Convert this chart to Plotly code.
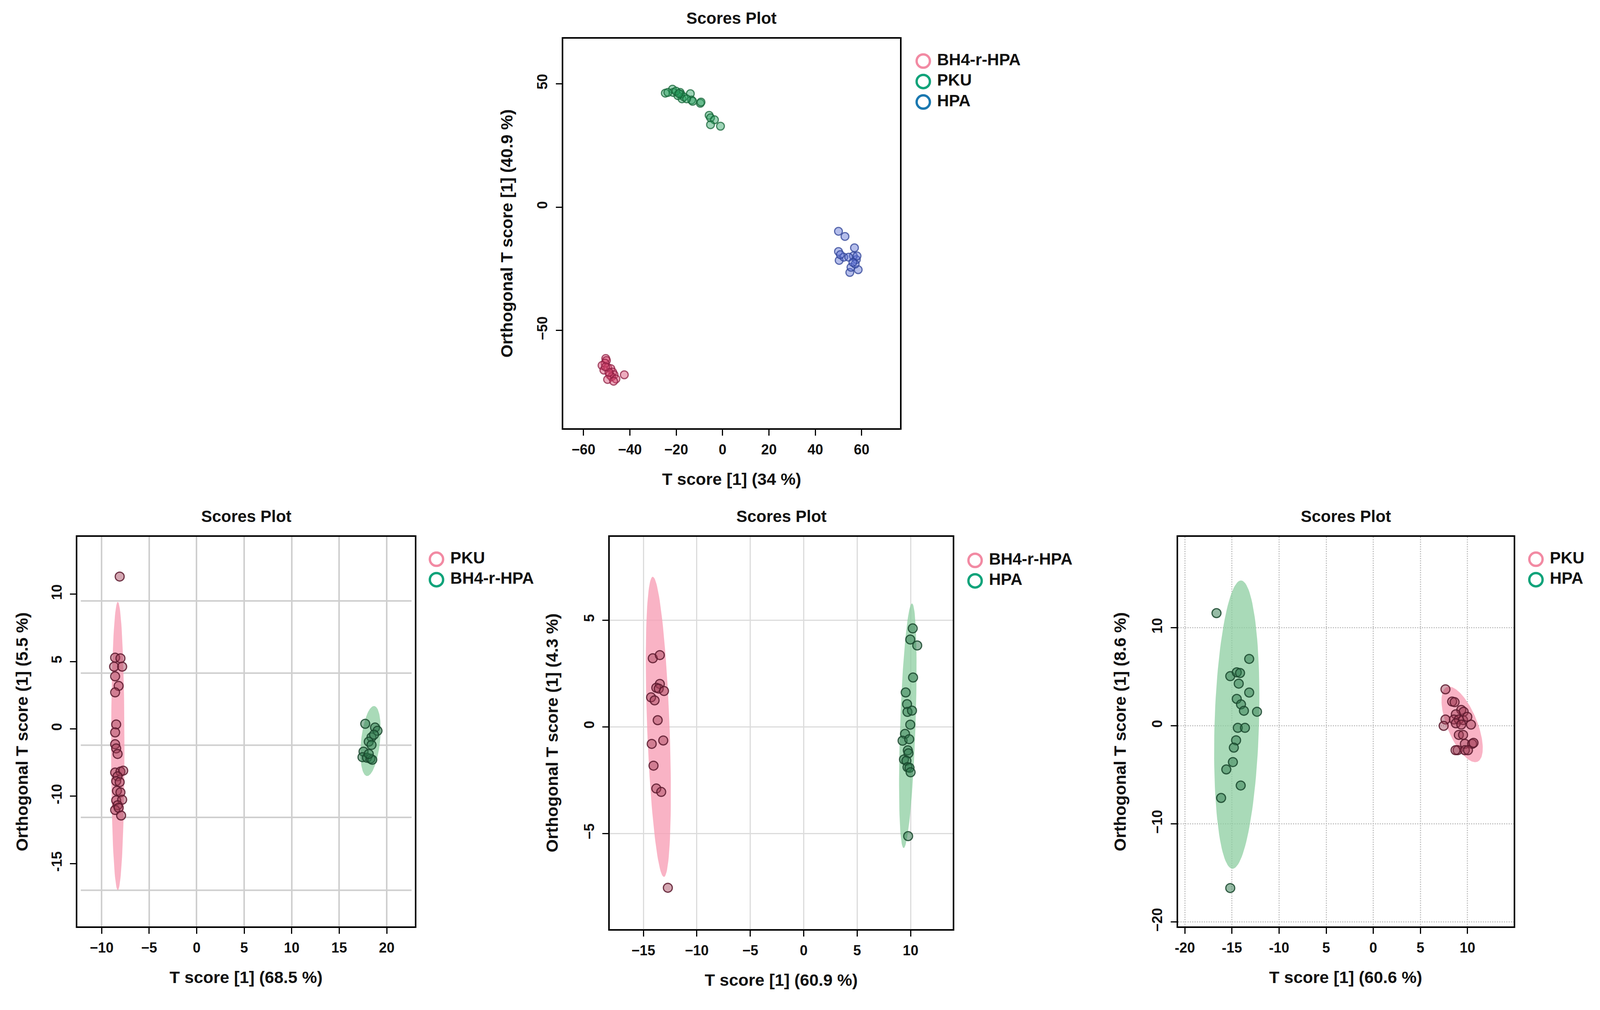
import numpy as np
import plotly.graph_objects as go

W, H = 4359, 2585
FONT = "Liberation Sans, Arial, sans-serif"

# ---------------- data ----------------
# top panel: BH4-r-HPA / PKU / HPA
top_groups = ["BH4-r-HPA", "PKU", "HPA"]
top_bh4_x = [-50.4, -50.1, -50.7, -52.0, -51.2, -49.6, -48.2, -47.4, -46.8, -48.7,
             -47.9, -49.6, -46.0, -42.4, -49.0, -50.5, -47.0]
top_bh4_y = [-61.4, -62.2, -63.3, -64.2, -66.1, -65.0, -65.5, -66.9, -68.0, -68.0,
             -68.8, -69.9, -69.7, -68.0, -67.0, -64.8, -70.6]
top_pku_x = [-24.7, -21.6, -21.3, -18.3, -18.0, -17.5, -16.7, -13.9, -13.4, -12.9, -9.6,
             -9.3, -5.8, -5.2, -3.5, -5.2, -0.9, -19.3, -15.5, -23.6, -20.1, -18.8]
top_pku_y = [46.2, 47.8, 46.5, 46.5, 45.7, 43.9, 44.7, 46.0, 43.4, 42.9, 42.1,
             42.6, 37.2, 36.2, 35.4, 33.4, 32.8, 45.2, 43.9, 46.5, 47.0, 46.0]
top_hpa_x = [50.0, 52.8, 50.0, 50.3, 52.3, 56.9, 57.7, 56.4, 58.5, 54.9, 55.4, 57.2,
             50.8, 54.4, 58.0, 56.2]
top_hpa_y = [-9.8, -11.9, -18.0, -21.6, -20.3, -16.5, -21.3, -19.8, -25.4, -26.5, -24.4,
             -23.1, -19.3, -20.3, -19.8, -22.4]

# bottom-left panel: PKU / BH4-r-HPA
bl_groups = ["PKU", "BH4-r-HPA"]
bl_pku_x = [-8.10, -8.58, -8.02, -8.69, -7.84, -8.58, -8.21, -8.58, -8.47, -8.58, -8.58,
            -8.47, -8.32, -8.58, -8.02, -7.73, -8.32, -8.47, -8.10, -8.39, -8.02, -8.47,
            -7.84, -8.32, -8.58, -8.21, -7.95]
bl_pku_y = [11.31, 5.29, 5.24, 4.62, 4.62, 3.90, 3.19, 2.71, 0.33, -0.26, -1.14,
            -1.45, -1.86, -3.24, -3.17, -3.10, -3.52, -3.88, -3.95, -4.60, -4.71, -5.31,
            -5.26, -5.67, -6.02, -5.86, -6.43]
bl_bh4_x = [17.74, 18.77, 19.03, 18.40, 18.11, 18.40, 17.56, 17.45, 17.92, 18.29, 18.48,
            18.11, 18.66]
bl_bh4_y = [0.38, 0.10, -0.14, -0.62, -0.95, -1.19, -1.69, -2.10, -2.14, -2.21, -2.29,
            -1.86, -0.43]
bl_pku_ellipse = [-8.3, -1.27, 0.7, 10.7, 0.0]     # cx, cy, rx, ry, tilt
bl_bh4_ellipse = [18.3, -0.9, 1.0, 2.6, 0.36]
bl_y_ticks = [10, 5, 0, -5, -10]
bl_y_ticklabels = ["10", "5", "0", "-10", "-15"]
bl_hgrid = [9.5, 4.14, -1.21, -6.57, -11.98]

# bottom-middle panel: BH4-r-HPA / HPA
bm_groups = ["BH4-r-HPA", "HPA"]
bm_bh4_x = [-14.12, -13.46, -13.46, -13.79, -13.56, -13.07, -14.28, -13.95, -13.66,
            -14.22, -13.14, -14.05, -13.79, -13.33, -12.71]
bm_bh4_y = [3.21, 3.36, 2.01, 1.83, 1.79, 1.68, 1.38, 1.24, 0.31, -0.80, -0.64, -1.82,
            -2.89, -3.05, -7.54]
bm_hpa_x = [10.2, 9.97, 10.62, 10.23, 9.54, 9.67, 9.71, 10.13, 9.97, 9.48, 9.25, 9.87,
            9.74, 9.80, 9.38, 9.61, 9.71, 9.90, 10.0, 9.77]
bm_hpa_y = [4.61, 4.09, 3.81, 2.31, 1.61, 1.06, 0.70, 0.76, 0.10, -0.33, -0.65, -0.58,
            -1.10, -1.24, -1.53, -1.59, -1.89, -1.92, -2.13, -5.12]
bm_bh4_ellipse = [-13.6, 0.0, 1.05, 7.03, -0.52]
bm_hpa_ellipse = [9.74, 0.05, 0.72, 5.73, 0.39]

# bottom-right panel: PKU / HPA
br_groups = ["PKU", "HPA"]
br_pku_x = [7.66, 8.37, 8.63, 9.34, 9.59, 8.76, 7.66, 7.47, 8.56, 9.08, 9.53, 9.98, 10.37,
            8.76, 9.34, 9.08, 9.53, 9.72, 10.49, 8.95, 9.72, 10.64, 8.73, 10.05]
br_pku_y = [3.73, 2.48, 2.42, 1.63, 1.44, 1.18, 0.65, 0.0, 0.65, 0.65, 0.59, 0.92, 0.13,
            0.26, 0.13, -0.92, -0.92, -1.83, -1.83, -2.48, -2.48, -1.73, -2.48, -2.48]
br_hpa_x = [-16.64, -13.17, -15.18, -14.49, -14.14, -14.28, -13.17, -14.49, -14.04,
            -13.73, -12.34, -14.38, -13.62, -14.56, -14.80, -14.90, -15.60, -14.07,
            -16.15, -15.18]
br_hpa_y = [11.5, 6.83, 5.07, 5.46, 5.39, 4.31, 3.40, 2.75, 2.19, 1.54, 1.44, -0.20,
            -0.20, -1.47, -2.22, -3.69, -4.44, -6.08, -7.35, -16.54]
br_pku_ellipse = [9.43, 0.15, 1.7, 3.85, -1.38]
br_hpa_ellipse = [-14.49, 0.13, 2.36, 14.7, 0.45]
br_x_ticks = [-20, -15, -10, -5, 0, 5, 10]
br_x_ticklabels = ["-20", "-15", "-10", "5", "0", "5", "10"]

# ---------------- styles ----------------
LEGEND_COLORS = ["#F28AA3", "#10A37A", "#1A78B0"]
PT_FILL = {"pink": "rgba(215,70,110,0.45)", "green": "rgba(40,160,95,0.45)",
           "blue": "rgba(90,110,210,0.45)"}
PT_LINE = {"pink": "rgba(140,30,65,0.75)", "green": "rgba(20,100,55,0.75)",
           "blue": "rgba(45,65,150,0.75)"}
BT_FILL = {"pink": "rgba(160,60,85,0.45)", "green": "rgba(45,120,75,0.5)"}
BT_LINE = {"pink": "rgba(90,25,45,0.85)", "green": "rgba(25,70,45,0.85)"}
ELL_FILL = {"pink": "rgba(248,160,182,0.8)", "green": "rgba(140,205,160,0.75)"}


def px(x):
    return x / W


def py(y):
    return 1 - y / H


def ellipse(cx, cy, rx, ry, tilt, n=120):
    t = np.linspace(0, 2 * np.pi, n)
    return cx + rx * np.cos(t) + tilt * np.sin(t), cy + ry * np.sin(t)


fig = go.Figure()
annotations = []
shapes = []

# panel boxes in reference pixels: left, top, right, bottom
panels = [
    dict(box=(1526, 92, 2449, 1101), xr=[-68.8, 76.5], yr=[-89.7, 68.3],
         xt=list(range(-60, 61, 20)), xl=None, yt=[-50, 0, 50], yl=None,
         xtitle="T score [1] (34 %)", ytitle="Orthogonal T score [1] (40.9 %)",
         grid=None, legend=(2513, 150, 53, top_groups)),
    dict(box=(195, 1382, 1120, 2391), xr=[-12.55, 22.97], yr=[-14.67, 14.26],
         xt=list(range(-10, 21, 5)), xl=None, yt=bl_y_ticks, yl=bl_y_ticklabels,
         xtitle="T score [1] (68.5 %)", ytitle="Orthogonal T score (1] (5.5 %)",
         grid="bl", legend=(1179, 1440, 53, bl_groups)),
    dict(box=(1654, 1382, 2594, 2398), xr=[-18.14, 13.95], yr=[-9.48, 8.9],
         xt=list(range(-15, 11, 5)), xl=None, yt=[-5, 0, 5], yl=None,
         xtitle="T score [1] (60.9 %)", ytitle="Orthogonal T score (1] (4.3 %)",
         grid="bm", legend=(2655, 1443, 53, bm_groups)),
    dict(box=(3211, 1382, 4131, 2391), xr=[-20.73, 14.9], yr=[-20.46, 19.28],
         xt=br_x_ticks, xl=br_x_ticklabels, yt=[-20, -10, 0, 10], yl=None,
         xtitle="T score [1] (60.6 %)", ytitle="Orthogonal T score (1] (8.6 %)",
         grid="br", legend=(4192, 1440, 53, br_groups)),
]
ytitle_x = [1371, 42, 1496, 3052]

layout_axes = {}
for i, p in enumerate(panels):
    k = i + 1
    l, t, r, b = p["box"]
    xa = dict(domain=[px(l), px(r)], range=p["xr"], anchor=f"y{k}" if k > 1 else "y",
              showline=True, linecolor="black", linewidth=4, mirror=True,
              ticks="outside", ticklen=15, tickwidth=3, tickcolor="black",
              tickvals=p["xt"], zeroline=False, showgrid=False,
              tickfont=dict(family=FONT, size=36, color="#111", weight="bold"),
              ticklabelstandoff=5)
    ya = dict(domain=[py(b), py(t)], range=p["yr"], anchor=f"x{k}" if k > 1 else "x",
              showline=True, linecolor="black", linewidth=4, mirror=True,
              ticks="outside", ticklen=15, tickwidth=3, tickcolor="black",
              tickvals=p["yt"], zeroline=False, showgrid=False, tickangle=-90,
              tickfont=dict(family=FONT, size=36, color="#111", weight="bold"),
              ticklabelstandoff=7)
    if p["xl"]:
        xa["ticktext"] = p["xl"]
    if p["yl"]:
        ya["ticktext"] = p["yl"]
    if p["grid"] == "bl":
        xa.update(showgrid=True, gridcolor="#CFCFCF", gridwidth=4)
        for g in bl_hgrid:
            shapes.append(dict(type="line", xref="x2 domain", yref="y2", x0=0.01, x1=0.99,
                               y0=g, y1=g, line=dict(color="#CFCFCF", width=4), layer="below"))
    elif p["grid"] == "bm":
        xa.update(showgrid=True, gridcolor="#DCDCDC", gridwidth=3)
        ya.update(showgrid=True, gridcolor="#DCDCDC", gridwidth=3)
    elif p["grid"] == "br":
        xa.update(showgrid=True, gridcolor="#C4C4C4", gridwidth=3, griddash="dot")
        ya.update(showgrid=True, gridcolor="#C4C4C4", gridwidth=3, griddash="dot")
    sx = "" if k == 1 else str(k)
    layout_axes["xaxis" + sx] = xa
    layout_axes["yaxis" + sx] = ya

    cxp = (l + r) / 2
    annotations.append(dict(text="<b>Scores Plot</b>", x=px(cxp), y=py(t - 53), xref="paper",
                            yref="paper", showarrow=False, xanchor="center", yanchor="middle",
                            font=dict(family=FONT, size=42, color="#111")))
    annotations.append(dict(text="<b>" + p["xtitle"] + "</b>", x=px(cxp), y=py(b + 131),
                            xref="paper", yref="paper", showarrow=False, xanchor="center",
                            yanchor="middle", font=dict(family=FONT, size=43, color="#111")))
    annotations.append(dict(text="<b>" + p["ytitle"] + "</b>", x=px(ytitle_x[i]),
                            y=py((t + b) / 2), xref="paper", yref="paper", showarrow=False,
                            textangle=-90, xanchor="center", yanchor="middle",
                            font=dict(family=FONT, size=43, color="#111")))

    # legend drawn on its own small axis pair
    mx, my0, step, names = p["legend"]
    n = len(names)
    lk = k + 4
    lx1 = min(mx + 400, W)
    layout_axes[f"xaxis{lk}"] = dict(domain=[px(mx - 40), px(lx1)], range=[-40, lx1 - mx],
                                     visible=False, anchor=f"y{lk}", fixedrange=True)
    layout_axes[f"yaxis{lk}"] = dict(domain=[py(my0 + step * (n - 0.5)), py(my0 - step * 0.5)],
                                     type="category", categoryarray=names,
                                     range=[n - 0.5, -0.5], visible=False, anchor=f"x{lk}",
                                     fixedrange=True)
    fig.add_trace(go.Scatter(x=[0] * n, y=names, mode="markers", xaxis=f"x{lk}",
                             yaxis=f"y{lk}", showlegend=False, hoverinfo="skip",
                             marker=dict(symbol="circle-open", size=34,
                                         color=LEGEND_COLORS[:n],
                                         line=dict(width=6, color=LEGEND_COLORS[:n]))))
    fig.add_trace(go.Scatter(x=[38] * n, y=names, mode="text", text=names,
                             textposition="middle right", xaxis=f"x{lk}", yaxis=f"y{lk}",
                             showlegend=False, hoverinfo="skip", cliponaxis=False,
                             textfont=dict(family=FONT, size=42, color="#111", weight="bold")))


def add_ellipse(params, color, ax):
    ex, ey = ellipse(*params)
    fig.add_trace(go.Scatter(x=ex, y=ey, mode="lines", fill="toself", fillcolor=ELL_FILL[color],
                             line=dict(width=0), xaxis="x" + ax, yaxis="y" + ax,
                             showlegend=False, hoverinfo="skip"))


def add_points(xs, ys, fill, line, size, ax):
    fig.add_trace(go.Scatter(x=xs, y=ys, mode="markers", xaxis="x" + ax, yaxis="y" + ax,
                             showlegend=False,
                             marker=dict(size=size, color=fill, line=dict(width=3, color=line))))


# top panel
add_points(top_bh4_x, top_bh4_y, PT_FILL["pink"], PT_LINE["pink"], 20, "")
add_points(top_pku_x, top_pku_y, PT_FILL["green"], PT_LINE["green"], 20, "")
add_points(top_hpa_x, top_hpa_y, PT_FILL["blue"], PT_LINE["blue"], 20, "")

# bottom-left
add_ellipse(bl_pku_ellipse, "pink", "2")
add_ellipse(bl_bh4_ellipse, "green", "2")
add_points(bl_pku_x, bl_pku_y, BT_FILL["pink"], BT_LINE["pink"], 23, "2")
add_points(bl_bh4_x, bl_bh4_y, BT_FILL["green"], BT_LINE["green"], 23, "2")

# bottom-middle
add_ellipse(bm_bh4_ellipse, "pink", "3")
add_ellipse(bm_hpa_ellipse, "green", "3")
add_points(bm_bh4_x, bm_bh4_y, BT_FILL["pink"], BT_LINE["pink"], 23, "3")
add_points(bm_hpa_x, bm_hpa_y, BT_FILL["green"], BT_LINE["green"], 23, "3")

# bottom-right
add_ellipse(br_hpa_ellipse, "green", "4")
add_ellipse(br_pku_ellipse, "pink", "4")
add_points(br_hpa_x, br_hpa_y, BT_FILL["green"], BT_LINE["green"], 23, "4")
add_points(br_pku_x, br_pku_y, BT_FILL["pink"], BT_LINE["pink"], 23, "4")

# size follows the browser window so nothing is pushed off the page
fig.update_layout(
    autosize=True, margin=dict(l=0, r=0, t=0, b=0),
    paper_bgcolor="white", plot_bgcolor="white", showlegend=False,
    annotations=annotations, shapes=shapes, **layout_axes,
)

fig.write_html("out.html")
